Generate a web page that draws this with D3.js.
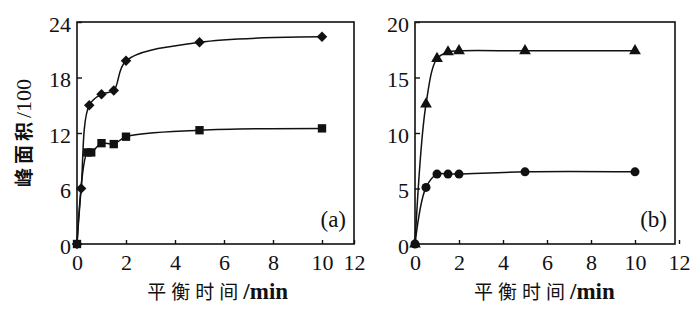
<!DOCTYPE html>
<html>
<head>
<meta charset="utf-8">
<script src="https://cdn.jsdelivr.net/npm/d3@7.9.0/dist/d3.min.js"></script>
<style>
  body { margin: 0; background: #fff; }
  svg { display: block; }
  .cjk { font-family: "Noto Sans CJK SC", sans-serif; fill: #111; }
  .num { font-family: "Liberation Serif", "DejaVu Serif", serif; }
</style>
</head>
<body>
<svg id="chart" width="700" height="309"></svg>
<script>
// panel (a): diamonds and squares
const timeA_dia = [0, 0.17, 0.5, 1, 1.5, 2, 5, 10];
const areaA_dia = [0, 6.0, 15.0, 16.2, 16.6, 19.8, 21.8, 22.4];
const timeA_sq = [0, 0.42, 0.58, 1, 1.5, 2, 5, 10];
const areaA_sq = [0, 9.9, 9.9, 10.9, 10.8, 11.6, 12.3, 12.5];
// panel (b): triangles and circles
const timeB = [0, 0.5, 1, 1.5, 2, 5, 10];
const areaB_tri = [0, 12.6, 16.7, 17.3, 17.4, 17.4, 17.4];
const areaB_cir = [0, 5.1, 6.3, 6.3, 6.3, 6.5, 6.5];

const xTicks = [0, 2, 4, 6, 8, 10, 12];
const yTicksA = [0, 6, 12, 18, 24];
const yTicksB = [0, 5, 10, 15, 20];

const svg = d3.select('#chart');
const plotTop = 22, plotBottom = 244;

const panels = [
  {
    label: '(a)', left: 77, right: 354,
    xDomain: [0, 10, 12], xRange: [77, 322, 354],
    yMax: 24, yTicks: yTicksA,
    series: [
      {t: timeA_dia, v: areaA_dia, sym: d3.symbolDiamond2, size: 70},
      {t: timeA_sq, v: areaA_sq, sym: d3.symbolSquare, size: 70}
    ]
  },
  {
    label: '(b)', left: 415, right: 675,
    xDomain: [0, 12], xRange: [415, 679],
    yMax: 20, yTicks: yTicksB,
    series: [
      {t: timeB, v: areaB_tri, sym: d3.symbolTriangle, size: 60},
      {t: timeB, v: areaB_cir, sym: d3.symbolCircle, size: 64}
    ]
  }
];

panels.forEach((p) => {
  let x = d3.scaleLinear().domain(p.xDomain).range(p.xRange);
  let y = d3.scaleLinear().domain([0, p.yMax]).range([plotBottom, plotTop]);
  let g = svg.append('g');

  // box
  g.append('rect')
    .attr('x', p.left).attr('y', plotTop)
    .attr('width', p.right - p.left).attr('height', plotBottom - plotTop)
    .attr('fill', 'none').attr('stroke', '#111').attr('stroke-width', 1.6);

  let xAxis = g.append('g')
    .attr('transform', `translate(0,${plotBottom})`)
    .call(d3.axisBottom(x).tickValues(xTicks).tickSize(-4).tickPadding(10).tickFormat(d3.format('d')));
  xAxis.select('.domain').remove();
  xAxis.selectAll('.tick line').attr('stroke', '#111').attr('stroke-width', 1.4);
  xAxis.selectAll('.tick text')
    .attr('class', 'num')
    .style('font-size', '22px')
    .attr('fill', '#111');

  let yAxis = g.append('g')
    .attr('transform', `translate(${p.left},0)`)
    .call(d3.axisLeft(y).tickValues(p.yTicks).tickSize(-5).tickPadding(6));
  yAxis.select('.domain').remove();
  yAxis.selectAll('.tick line').attr('stroke', '#111').attr('stroke-width', 1.4);
  yAxis.selectAll('.tick text')
    .attr('class', 'num')
    .style('font-size', '22px')
    .attr('fill', '#111').attr('dy', '0.42em');

  let line = d3.line()
    .x((d) => x(d[0]))
    .y((d) => y(d[1]))
    .curve(d3.curveCatmullRom.alpha(0.5));

  p.series.forEach((s) => {
    let pts = s.t.map((t, i) => [t, s.v[i]]);
    g.append('path')
      .datum(pts)
      .attr('d', line)
      .attr('fill', 'none')
      .attr('stroke', '#111')
      .attr('stroke-width', 1.5);
  });
  p.series.forEach((s) => {
    let pts = s.t.map((t, i) => [t, s.v[i]]);
    g.selectAll(null)
      .data(pts)
      .enter()
      .append('path')
      .attr('d', d3.symbol().type(s.sym).size(s.size))
      .attr('transform', (d) => `translate(${x(d[0])},${y(d[1])})`)
      .attr('fill', '#111');
  });

  g.append('text')
    .attr('x', p.right - 8).attr('y', 227)
    .attr('text-anchor', 'end')
    .attr('class', 'num')
    .style('font-size', '23px')
    .attr('fill', '#111')
    .text(p.label);

  // x title
  let cx = (p.xRange[0] + x(10.4)) / 2;
  let title = g.append('text')
    .attr('x', cx + 15).attr('y', 299)
    .attr('text-anchor', 'middle')
    .attr('class', 'cjk')
    .attr('font-size', 19);
  title.append('tspan').attr('letter-spacing', 5).text('平衡时间');
  title.append('tspan')
    .attr('class', 'num')
    .attr('font-weight', 'bold').style('font-size', '23px')
    .text('/min');
});

// y title
let yTitle = svg.append('text')
  .attr('transform', 'translate(31,133) rotate(-90)')
  .attr('text-anchor', 'middle')
  .attr('class', 'cjk')
  .attr('font-size', 19)
  .attr('font-weight', 'bold');
yTitle.append('tspan').attr('letter-spacing', 4).text('峰面积');
yTitle.append('tspan')
  .attr('class', 'num')
  .attr('font-weight', 'normal').style('font-size', '22px')
  .text('/100');
</script>
</body>
</html>
